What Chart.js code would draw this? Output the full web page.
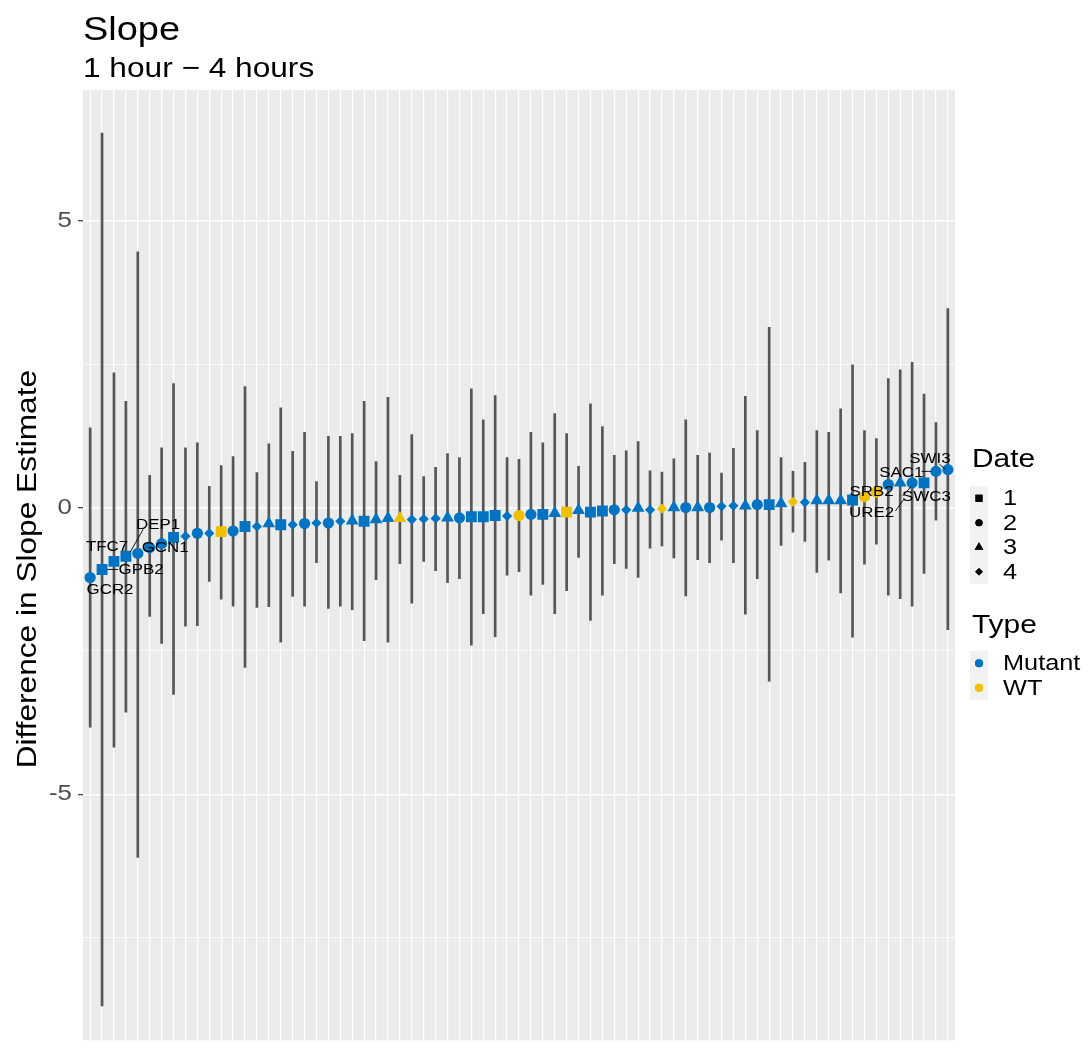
<!DOCTYPE html>
<html>
<head>
<meta charset="utf-8">
<script src="https://cdn.jsdelivr.net/npm/chart.js@4.4.0/dist/chart.umd.min.js"></script>
<style>
  body { margin: 0; background: #fff; }
  canvas { display: block; }
</style>
</head>
<body>
<canvas id="chart" width="1090" height="1048"></canvas>
<script>
// values, ordered left to right
var estimate = [-1.22, -1.08, -0.94, -0.85, -0.80, -0.70, -0.63, -0.52, -0.50, -0.45,
  -0.45, -0.42, -0.41, -0.33, -0.33, -0.28, -0.30, -0.30, -0.28, -0.27,
  -0.27, -0.24, -0.23, -0.24, -0.21, -0.19, -0.19, -0.21, -0.20, -0.19,
  -0.18, -0.18, -0.16, -0.16, -0.14, -0.15, -0.14, -0.12, -0.12, -0.10,
  -0.08, -0.05, -0.08, -0.06, -0.04, -0.04, -0.01, -0.04, -0.02, 0.00,
  0.00, 0.00, 0.00, 0.02, 0.03, 0.03, 0.05, 0.05, 0.07, 0.10,
  0.09, 0.12, 0.12, 0.12, 0.13, 0.19, 0.27, 0.40, 0.43, 0.43,
  0.43, 0.63, 0.66];
var upper = [1.39, 6.53, 2.35, 1.85, 4.46, 0.56, 1.04, 2.16, 1.04, 1.13,
  0.37, 0.73, 0.89, 2.11, 0.61, 1.11, 1.74, 0.98, 1.31, 0.45,
  1.24, 1.24, 1.29, 1.85, 0.80, 1.92, 0.56, 1.27, 0.54, 0.70,
  0.94, 0.87, 2.07, 1.53, 1.95, 0.87, 0.84, 1.31, 1.13, 1.64,
  1.29, 0.72, 1.81, 1.41, 0.91, 0.99, 1.15, 0.64, 0.62, 0.85,
  1.53, 0.91, 0.95, 0.60, 1.03, 1.94, 1.34, 3.14, 0.87, 0.63,
  0.79, 1.34, 1.31, 1.72, 2.49, 1.34, 1.20, 2.25, 2.40, 2.53,
  1.98, 1.48, 3.47];
var lower = [-3.83, -8.69, -4.18, -3.57, -6.10, -1.90, -2.37, -3.26, -2.07, -2.06,
  -1.29, -1.60, -1.72, -2.79, -1.74, -1.73, -2.35, -1.55, -1.72, -0.96,
  -1.76, -1.72, -1.78, -2.32, -1.26, -2.35, -0.98, -1.67, -0.94, -1.10,
  -1.31, -1.24, -2.40, -1.85, -2.25, -1.18, -1.12, -1.53, -1.34, -1.85,
  -1.45, -0.87, -1.97, -1.53, -0.98, -1.06, -1.22, -0.71, -0.67, -0.88,
  -1.54, -0.91, -0.96, -0.57, -0.96, -1.86, -1.24, -3.03, -0.66, -0.43,
  -0.59, -1.13, -0.92, -1.49, -2.26, -0.99, -0.64, -1.53, -1.59, -1.72,
  -1.15, -0.22, -2.13];
var dateGroup = [2, 1, 1, 1, 2, 2, 2, 1, 4, 2,
  4, 1, 2, 1, 4, 3, 1, 4, 2, 4,
  2, 4, 3, 1, 3, 3, 3, 4, 4, 4,
  3, 2, 1, 1, 1, 4, 2, 2, 1, 3,
  1, 3, 1, 1, 2, 4, 3, 4, 4, 3,
  2, 3, 2, 4, 4, 3, 2, 1, 3, 4,
  4, 3, 3, 3, 1, 2, 2, 2, 3, 2,
  1, 2, 2];
var typeGroup = ['M', 'M', 'M', 'M', 'M', 'M', 'M', 'M', 'M', 'M',
  'M', 'W', 'M', 'M', 'M', 'M', 'M', 'M', 'M', 'M',
  'M', 'M', 'M', 'M', 'M', 'M', 'W', 'M', 'M', 'M',
  'M', 'M', 'M', 'M', 'M', 'M', 'W', 'M', 'M', 'M',
  'W', 'M', 'M', 'M', 'M', 'M', 'M', 'M', 'W', 'M',
  'M', 'M', 'M', 'M', 'M', 'M', 'M', 'M', 'M', 'W',
  'M', 'M', 'M', 'M', 'M', 'W', 'W', 'M', 'M', 'M',
  'M', 'M', 'M'];
var dateNames = ['1', '2', '3', '4'];
var typeNames = ['Mutant', 'WT'];
var yTicks = [-7.5, -5, -2.5, 0, 2.5, 5];
var yTickLabels = ['', '-5', '', '0', '', '5'];

// gene labels: text position in axis units, optional leader segment
var geneLabels = [
  { name: 'GCR2', x: 1.67, y: -1.43 },
  { name: 'GPB2', x: 4.28, y: -1.08, seg: [1.43, -1.08, 2.35, -1.08] },
  { name: 'TFC7', x: 1.42, y: -0.68 },
  { name: 'DEP1', x: 5.7, y: -0.31, seg: [3.36, -0.78, 4.45, -0.38] },
  { name: 'GCN1', x: 6.3, y: -0.70 },
  { name: 'SWI3', x: 70.5, y: 0.85, seg: [71.3, 0.75, 71.8, 0.67] },
  { name: 'SAC1', x: 68.1, y: 0.61, seg: [69.8, 0.63, 70.6, 0.63] },
  { name: 'SRB2', x: 65.6, y: 0.28 },
  { name: 'SWC3', x: 70.2, y: 0.19, seg: [68.2, 0.20, 68.9, 0.36] },
  { name: 'URE2', x: 65.6, y: -0.10, seg: [67.6, -0.06, 68.3, 0.14] }
];

var colors = { M: '#0073C2', W: '#EFC000' };
var styles = { 1: 'rect', 2: 'circle', 3: 'triangle', 4: 'rectRot' };
var radii = { 1: 7.7, 2: 5.6, 3: 7.4, 4: 5.1 };
var keyRadii = { 1: 5.0, 2: 3.6, 3: 5.0, 4: 3.8 };
var FONT = '"Liberation Sans", Arial, sans-serif';
var SX = 1.15;

var idx = estimate.map(function (v, i) { return i; });

function drawText(ctx, str, x, y, size, color, align, baseline) {
  ctx.save();
  ctx.font = size + 'px ' + FONT;
  ctx.fillStyle = color;
  ctx.textBaseline = baseline || 'middle';
  ctx.textAlign = 'left';
  var w = ctx.measureText(str).width * SX;
  var x0 = align === 'center' ? x - w / 2 : (align === 'right' ? x - w : x);
  ctx.translate(x0, y);
  ctx.scale(SX, 1);
  ctx.fillText(str, 0, 0);
  ctx.restore();
}

var panelBg = {
  id: 'panelBg',
  beforeDraw: function (chart) {
    var a = chart.chartArea, ctx = chart.ctx;
    ctx.save();
    ctx.fillStyle = '#EBEBEB';
    ctx.fillRect(a.left, a.top, a.right - a.left, a.bottom - a.top);
    ctx.restore();
  }
};

var extras = {
  id: 'extras',
  afterDraw: function (chart) {
    var ctx = chart.ctx, a = chart.chartArea;
    var xs = chart.scales.x, ys = chart.scales.y;

    // gene labels
    geneLabels.forEach(function (l) {
      if (l.seg) {
        ctx.save();
        ctx.strokeStyle = '#000';
        ctx.lineWidth = 0.9;
        ctx.beginPath();
        ctx.moveTo(xs.getPixelForValue(l.seg[0]), ys.getPixelForValue(l.seg[1]));
        ctx.lineTo(xs.getPixelForValue(l.seg[2]), ys.getPixelForValue(l.seg[3]));
        ctx.stroke();
        ctx.restore();
      }
      drawText(ctx, l.name, xs.getPixelForValue(l.x), ys.getPixelForValue(l.y), 14.7, '#000', 'center');
    });

    // y tick labels
    yTicks.forEach(function (v, i) {
      if (yTickLabels[i]) drawText(ctx, yTickLabels[i], a.left - 11, ys.getPixelForValue(v), 22.5, '#4D4D4D', 'right');
    });

    // y axis title
    ctx.save();
    ctx.translate(28, (a.top + a.bottom) / 2 + 4);
    ctx.rotate(-Math.PI / 2);
    ctx.scale(SX, 1);
    ctx.font = '27.5px ' + FONT;
    ctx.fillStyle = '#000';
    ctx.textAlign = 'center';
    ctx.textBaseline = 'middle';
    ctx.fillText('Difference in Slope Estimate', 0, 0);
    ctx.restore();

    // titles
    drawText(ctx, 'Slope', a.left, 40, 33, '#000', 'left', 'alphabetic');
    drawText(ctx, '1 hour \u2212 4 hours', a.left, 77, 27.5, '#000', 'left', 'alphabetic');

    // legend
    var lx = a.right + 17, kx = lx - 2, kw = 18, kh = 24.5;
    drawText(ctx, 'Date', lx, 467, 26, '#000', 'left', 'alphabetic');
    var y0 = 486;
    ctx.fillStyle = '#F2F2F2';
    ctx.fillRect(kx, y0, kw, kh * dateNames.length);
    dateNames.forEach(function (d, i) {
      var cy = y0 + kh * (i + 0.5);
      ctx.fillStyle = '#000';
      Chart.helpers.drawPoint(ctx, { pointStyle: styles[i + 1], radius: keyRadii[i + 1], borderWidth: 0 }, kx + kw / 2, cy);
      ctx.fill();
      drawText(ctx, d, lx + 31, cy + 1, 22, '#000', 'left');
    });
    drawText(ctx, 'Type', lx, 633, 26, '#000', 'left', 'alphabetic');
    var y1 = 651;
    ctx.fillStyle = '#F2F2F2';
    ctx.fillRect(kx, y1, kw, kh * typeNames.length);
    typeNames.forEach(function (t, i) {
      var cy = y1 + kh * (i + 0.5);
      ctx.fillStyle = i === 0 ? colors.M : colors.W;
      Chart.helpers.drawPoint(ctx, { pointStyle: 'circle', radius: 4, borderWidth: 0 }, kx + kw / 2, cy);
      ctx.fill();
      drawText(ctx, t, lx + 31, cy + 1, 22, '#000', 'left');
    });
  }
};

var ctx = document.getElementById('chart').getContext('2d');
var chart = new Chart(ctx, {
  type: 'scatter',
  data: {
    datasets: [{
      type: 'bar',
      data: idx.map(function (i) { return { x: i, y: [lower[i], upper[i]] }; }),
      backgroundColor: 'rgba(50,50,50,0.82)',
      barThickness: 2,
      order: 2
    }, {
      type: 'scatter',
      data: idx.map(function (i) { return { x: i, y: estimate[i] }; }),
      pointStyle: idx.map(function (i) { return styles[dateGroup[i]]; }),
      pointRadius: idx.map(function (i) { return radii[dateGroup[i]]; }),
      backgroundColor: idx.map(function (i) { return colors[typeGroup[i]]; }),
      borderColor: idx.map(function (i) { return colors[typeGroup[i]]; }),
      borderWidth: 0,
      order: 1
    }]
  },
  options: {
    responsive: false,
    animation: false,
    layout: { padding: { top: 90, right: 135, bottom: 7, left: 0 } },
    plugins: { legend: { display: false }, tooltip: { enabled: false } },
    scales: {
      x: {
        type: 'linear',
        offset: false,
        min: -0.6,
        max: 72.6,
        afterBuildTicks: function (s) { s.ticks = idx.map(function (v) { return { value: v }; }); },
        afterFit: function (s) { s.height = 0; },
        ticks: { display: false },
        grid: { color: '#FFFFFF', lineWidth: 1.2, drawTicks: false, offset: false },
        border: { display: false }
      },
      y: {
        min: -9.29,
        max: 7.28,
        afterBuildTicks: function (s) { s.ticks = yTicks.map(function (v) { return { value: v }; }); },
        afterFit: function (s) { s.width = 83; },
        ticks: { display: false },
        grid: {
          color: '#FFFFFF',
          lineWidth: function (c) { return c.tick && c.tick.value % 5 === 0 ? 1.4 : 0.7; },
          drawTicks: true,
          tickLength: 5,
          tickWidth: 1.2,
          tickColor: function (c) { return c.tick && c.tick.value % 5 === 0 ? '#333333' : 'rgba(0,0,0,0)'; }
        },
        border: { display: false }
      }
    }
  },
  plugins: [panelBg, extras]
});
</script>
</body>
</html>
